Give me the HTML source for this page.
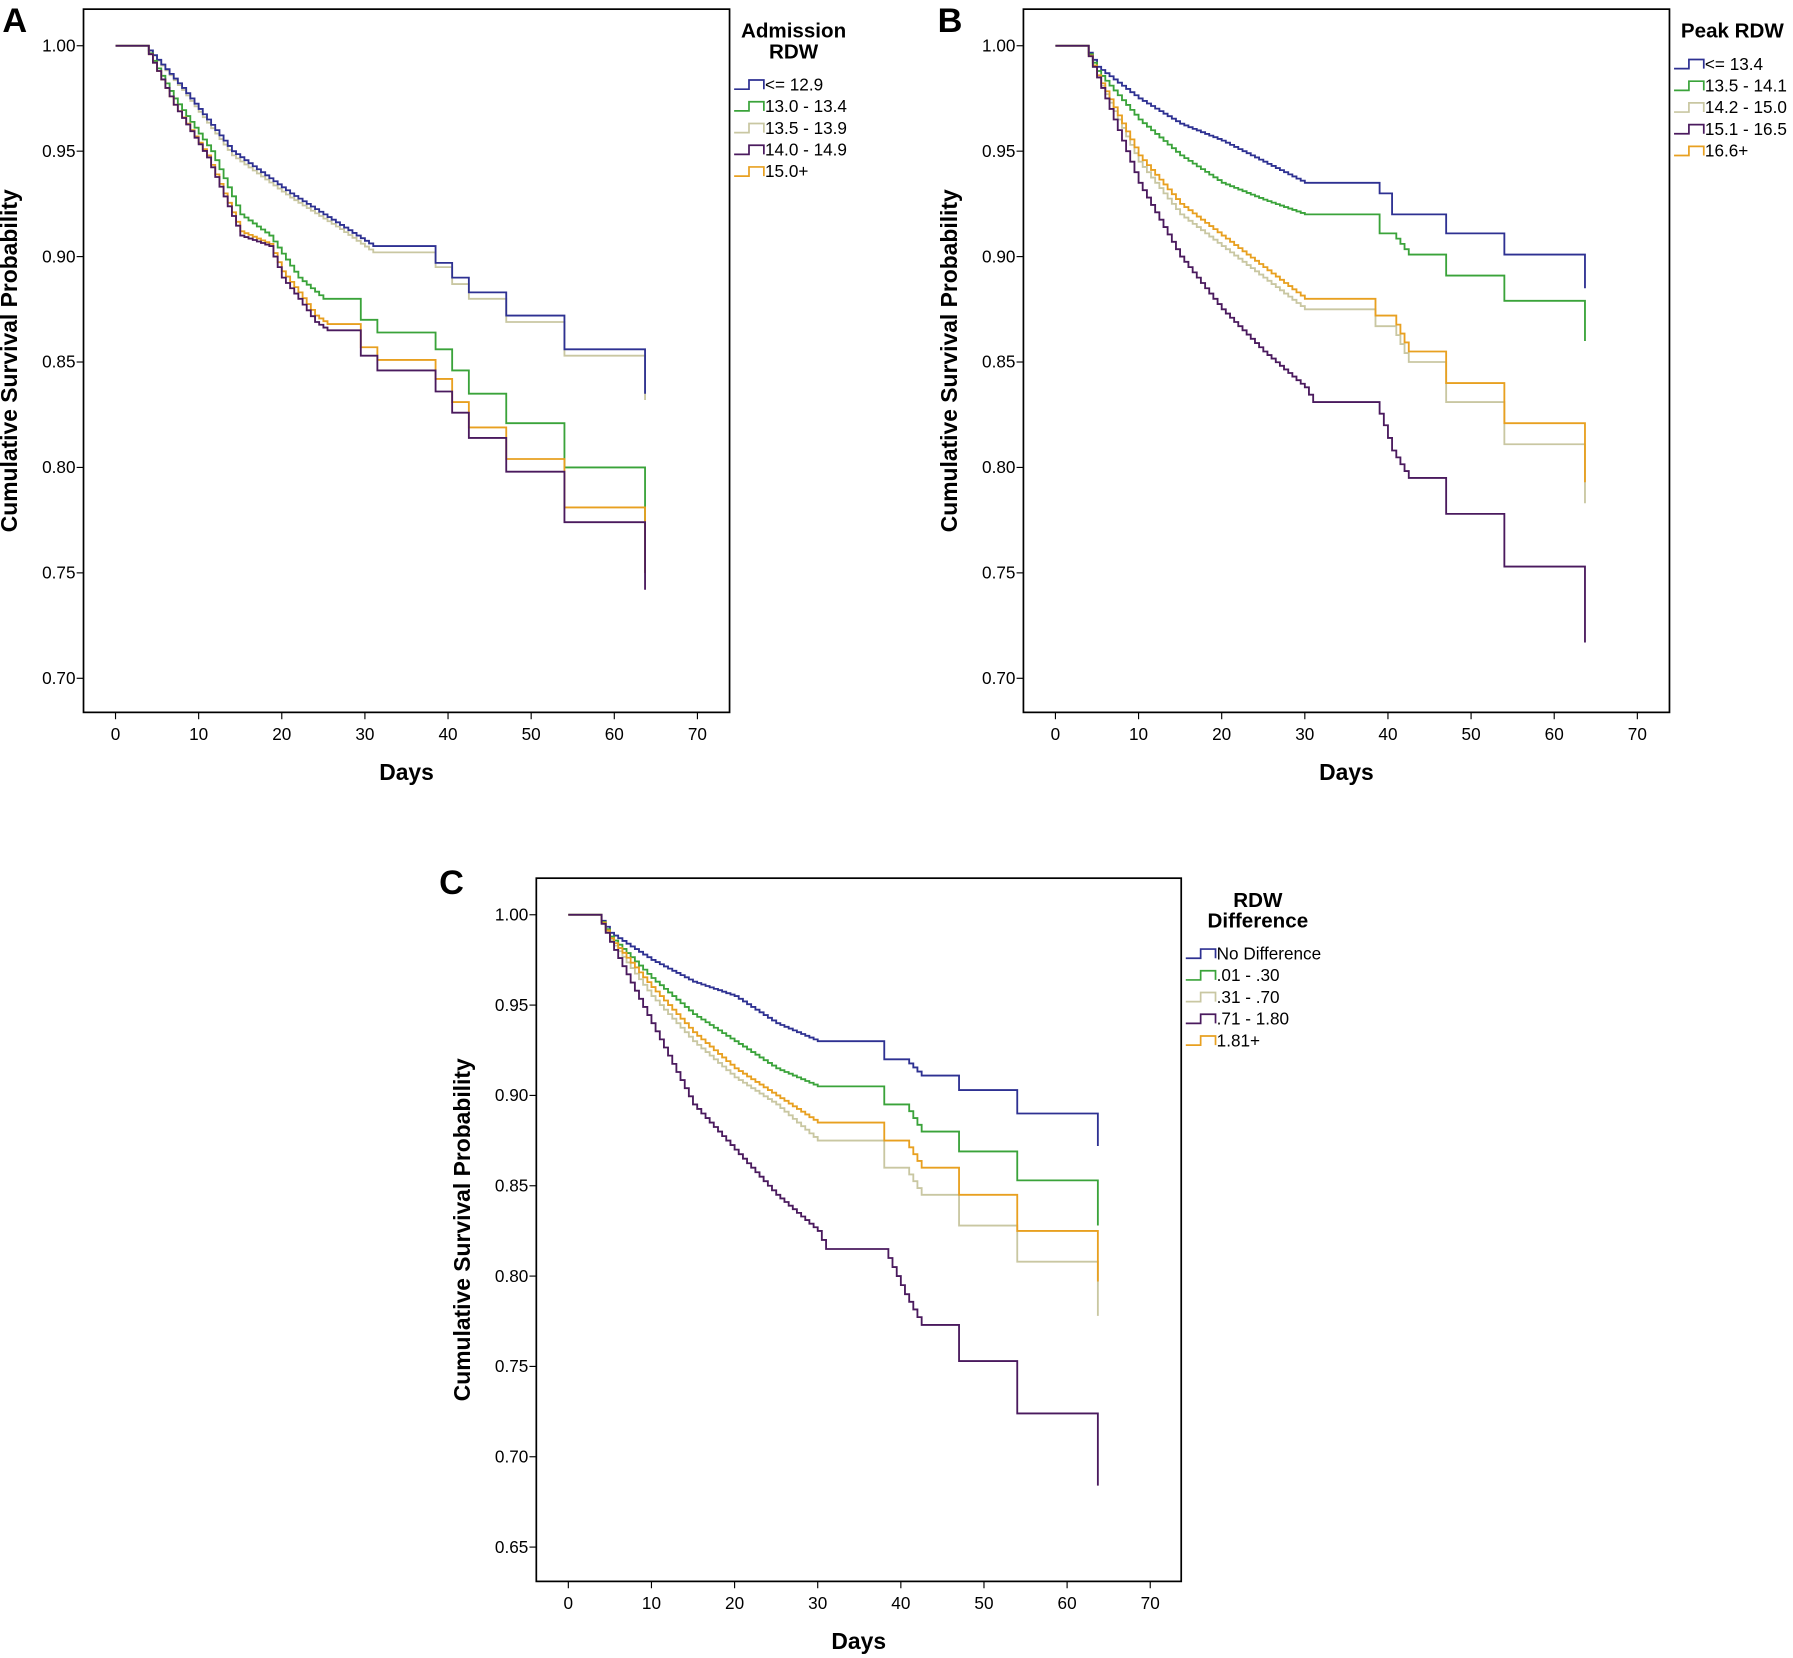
<!DOCTYPE html>
<html><head><meta charset="utf-8"><style>
html,body{margin:0;padding:0;background:#fff}
svg{display:block}
text{font-family:"Liberation Sans Narrow","Liberation Sans",sans-serif;fill:#000}
.t{font-size:15px}
.b{font-weight:bold}
</style></head><body>
<svg id="s" width="1793" height="1658" viewBox="0 0 1568 1450" xmlns="http://www.w3.org/2000/svg">
<text x="2" y="28" font-size="30" class="b">A</text>
<text x="820" y="28" font-size="30" class="b">B</text>
<text x="384" y="782" font-size="30" class="b">C</text>
<text x="694" y="33" text-anchor="middle" font-size="18" class="b">Admission</text>
<text x="694" y="51" text-anchor="middle" font-size="18" class="b">RDW</text>
<text x="1515" y="33" text-anchor="middle" font-size="18" class="b">Peak RDW</text>
<text x="1100" y="793" text-anchor="middle" font-size="18" class="b">RDW</text>
<text x="1100" y="811" text-anchor="middle" font-size="18" class="b">Difference</text>
<g id="g"></g>
</svg>
<script>
var NS="http://www.w3.org/2000/svg",g=document.getElementById('g');
function el(n,a,t){var e=document.createElementNS(NS,n);for(var k in a)e.setAttribute(k,a[k]);if(t!==undefined)e.textContent=t;g.appendChild(e);return e;}
var C={b:"#2e3192",g:"#3aa33a",s:"#c9c7a2",p:"#4a1a5e",o:"#e8a020"};
function panel(P){
 el('rect',{x:P.x0,y:P.y0,width:P.x1-P.x0,height:P.y1-P.y0,fill:'none',stroke:'#000','stroke-width':1.5});
 var X=function(d){return P.ax+7.27*d},Y=function(v){return P.ay+(1-v)/0.05*P.py};
 for(var d=0;d<=70;d+=10){el('line',{x1:X(d),x2:X(d),y1:P.y1,y2:P.y1+6,stroke:'#000'});el('text',{x:X(d),y:P.y1+24,'text-anchor':'middle','class':'t'},d);}
 for(var i=0;i<P.yl.length;i++){var v=P.yl[i];el('line',{x1:P.x0-6,x2:P.x0,y1:Y(v),y2:Y(v),stroke:'#000'});el('text',{x:P.x0-7,y:Y(v)+5,'text-anchor':'end','class':'t'},v.toFixed(2));}
 el('text',{x:(P.x0+P.x1)/2,y:P.y1+59,'text-anchor':'middle','font-size':20,'class':'b'},'Days');
 var cy=(P.y0+P.y1)/2;
 el('text',{x:0,y:0,'text-anchor':'middle','font-size':20,'class':'b',transform:'translate('+(P.x0-58)+','+cy+') rotate(-90)'},'Cumulative Survival Probability');
 ['s','b','g','o','p'].forEach(function(k){
  var K=P.c[k],d0=0,v0=1,path='M'+X(0)+','+Y(1);
  K.forEach(function(pt){var d1=pt[0],v1=pt[1];
   if(d1==d0){path+='V'+Y(v1).toFixed(1);}
   else if(v1==v0){path+='H'+X(d1).toFixed(1);}
   else{var n=Math.max(1,Math.round((d1-d0)/0.5));for(var j=1;j<=n;j++){var dd=d0+(d1-d0)*j/n,vv=v0+(v1-v0)*j/n;path+='H'+X(dd).toFixed(1)+'V'+Y(vv).toFixed(1);}}
   d0=d1;v0=v1;});
  el('path',{d:path,fill:'none',stroke:C[k],'stroke-width':1.6});
 });
 P.leg.forEach(function(L,i){var y=P.ly+i*19,x=P.lx;
  el('path',{d:'M'+x+','+(y+4)+'H'+(x+13)+'V'+(y-4)+'H'+(x+26)+'V'+(y+4),fill:'none',stroke:C[L[0]],'stroke-width':1.5});
  el('text',{x:x+27,y:y+5,'class':'t'},L[1]);});
}
function std(a){return [[3.5,1]].concat(a);}
panel({x0:73,x1:638,y0:8,y1:623,ax:101,ay:40,py:92.2,yl:[1,0.95,0.9,0.85,0.8,0.75,0.7],lx:642,ly:74,
 leg:[['b','<= 12.9'],['g','13.0 - 13.4'],['s','13.5 - 13.9'],['p','14.0 - 14.9'],['o','15.0+']],
 c:{b:std([[8,0.98],[14,0.95],[21,0.93],[27,0.915],[31,0.905],[38.5,0.905],[38.5,0.897],[40.5,0.897],[40.5,0.89],[42.5,0.89],[42.5,0.883],[47,0.883],[47,0.872],[54,0.872],[54,0.856],[63.7,0.856],[63.7,0.835]]),
 s:std([[8,0.979],[14,0.948],[21,0.928],[27,0.913],[31,0.902],[38.5,0.902],[38.5,0.895],[40.5,0.895],[40.5,0.887],[42.5,0.887],[42.5,0.88],[47,0.88],[47,0.869],[54,0.869],[54,0.853],[63.7,0.853],[63.7,0.832]]),
 g:std([[7,0.975],[11.5,0.95],[15,0.92],[18.5,0.91],[22,0.89],[25,0.88],[29.5,0.88],[29.5,0.87],[31.5,0.87],[31.5,0.864],[38.5,0.864],[38.5,0.856],[40.5,0.856],[40.5,0.846],[42.5,0.846],[42.5,0.835],[47,0.835],[47,0.821],[54,0.821],[54,0.8],[63.7,0.8],[63.7,0.75]]),
 o:std([[7,0.972],[11,0.948],[15,0.912],[18.5,0.906],[20,0.893],[22,0.883],[24,0.872],[25.5,0.868],[29.5,0.868],[29.5,0.857],[31.5,0.857],[31.5,0.851],[38.5,0.851],[38.5,0.842],[40.5,0.842],[40.5,0.831],[42.5,0.831],[42.5,0.819],[47,0.819],[47,0.804],[54,0.804],[54,0.781],[63.7,0.781],[63.7,0.75]]),
 p:std([[7,0.972],[11,0.947],[15,0.91],[18.5,0.905],[20,0.89],[22,0.88],[24,0.869],[25.5,0.865],[29.5,0.865],[29.5,0.853],[31.5,0.853],[31.5,0.846],[38.5,0.846],[38.5,0.836],[40.5,0.836],[40.5,0.826],[42.5,0.826],[42.5,0.814],[47,0.814],[47,0.798],[54,0.798],[54,0.774],[63.7,0.774],[63.7,0.742]])}});
panel({x0:895,x1:1460,y0:8,y1:623,ax:923,ay:40,py:92.2,yl:[1,0.95,0.9,0.85,0.8,0.75,0.7],lx:1464,ly:56,
 leg:[['b','<= 13.4'],['g','13.5 - 14.1'],['s','14.2 - 15.0'],['p','15.1 - 16.5'],['o','16.6+']],
 c:{b:std([[5,0.99],[10,0.975],[15,0.963],[20,0.955],[25,0.945],[30,0.935],[39,0.935],[39,0.93],[40.5,0.93],[40.5,0.92],[42.5,0.92],[42.5,0.92],[47,0.92],[47,0.911],[54,0.911],[54,0.901],[63.7,0.901],[63.7,0.885]]),
 g:std([[5,0.988],[10,0.965],[15,0.948],[20,0.935],[25,0.927],[30,0.92],[39,0.92],[39,0.911],[40.5,0.911],[42.5,0.901],[47,0.901],[47,0.891],[54,0.891],[54,0.879],[63.7,0.879],[63.7,0.86]]),
 s:std([[5,0.985],[10,0.945],[15,0.92],[20,0.905],[25,0.89],[30,0.875],[38.5,0.875],[38.5,0.867],[40.5,0.867],[42.5,0.85],[47,0.85],[47,0.831],[54,0.831],[54,0.811],[63.7,0.811],[63.7,0.783]]),
 o:std([[5,0.986],[10,0.948],[15,0.925],[20,0.91],[25,0.895],[30,0.88],[38.5,0.88],[38.5,0.872],[40.5,0.872],[42.5,0.855],[47,0.855],[47,0.84],[54,0.84],[54,0.821],[63.7,0.821],[63.7,0.793]]),
 p:std([[5,0.985],[10,0.935],[15,0.9],[20,0.875],[25,0.855],[30,0.838],[31,0.831],[38.5,0.831],[39.5,0.82],[40.5,0.808],[42.5,0.795],[47,0.795],[47,0.778],[54,0.778],[54,0.753],[63.7,0.753],[63.7,0.717]])}});
panel({x0:469,x1:1033,y0:768,y1:1383,ax:497,ay:800,py:79,yl:[1,0.95,0.9,0.85,0.8,0.75,0.7,0.65],lx:1037,ly:834,
 leg:[['b','No Difference'],['g','.01 - .30'],['s','.31 - .70'],['p','.71 - 1.80'],['o','1.81+']],
 c:{b:std([[5,0.99],[10,0.975],[15,0.963],[20,0.955],[25,0.94],[30,0.93],[38,0.93],[38,0.92],[40.5,0.92],[42.5,0.911],[47,0.911],[47,0.903],[54,0.903],[54,0.89],[63.7,0.89],[63.7,0.872]]),
 g:std([[5,0.988],[10,0.965],[15,0.945],[20,0.93],[25,0.915],[30,0.905],[38,0.905],[38,0.895],[40.5,0.895],[42.5,0.88],[47,0.88],[47,0.869],[54,0.869],[54,0.853],[63.7,0.853],[63.7,0.828]]),
 s:std([[5,0.986],[10,0.955],[15,0.93],[20,0.91],[25,0.895],[30,0.875],[38,0.875],[38,0.86],[40.5,0.86],[42.5,0.845],[47,0.845],[47,0.828],[54,0.828],[54,0.808],[63.7,0.808],[63.7,0.778]]),
 o:std([[5,0.987],[10,0.96],[15,0.935],[20,0.915],[25,0.9],[30,0.885],[38,0.885],[38,0.875],[40.5,0.875],[42.5,0.86],[47,0.86],[47,0.845],[54,0.845],[54,0.825],[63.7,0.825],[63.7,0.797]]),
 p:std([[5,0.985],[10,0.94],[15,0.895],[20,0.87],[25,0.845],[30,0.825],[31,0.815],[38,0.815],[40.5,0.79],[42.5,0.773],[47,0.773],[47,0.753],[54,0.753],[54,0.724],[63.7,0.724],[63.7,0.684]])}});
</script>
</body></html>
